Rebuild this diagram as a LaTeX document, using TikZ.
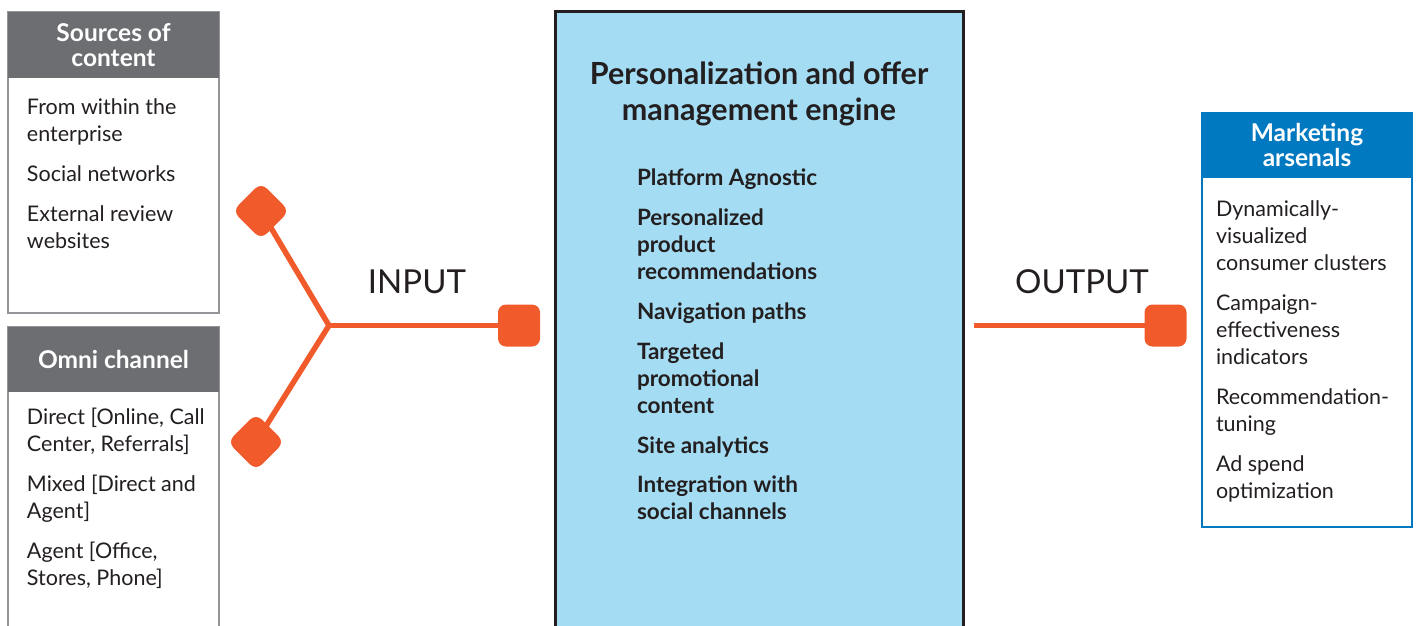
\documentclass[tikz,border=0pt]{standalone}
\usepackage{fontspec}
\setmainfont{Lato}
\definecolor{headgray}{HTML}{6D6E71}
\definecolor{framegray}{HTML}{939598}
\definecolor{headblue}{HTML}{0079C1}
\definecolor{enginefill}{HTML}{A4DDF3}
\definecolor{ink}{HTML}{231F20}
\definecolor{linkorange}{HTML}{F15A2B}
\begin{document}
\begin{tikzpicture}[x=1pt,y=-1pt,
  every node/.style={inner sep=0pt,outer sep=0pt},
  panel/.style={anchor=north west,fill=white},
  headbar/.style={anchor=north west,minimum height=66pt,minimum width=211pt},
  headtext/.style={text=white,align=center,font=\fontsize{24.5}{25}\selectfont\bfseries},
  item/.style={anchor=base west,align=left,text=ink,font=\fontsize{21.5}{27}\selectfont},
  engineitem/.style={anchor=base west,align=left,text=ink,font=\fontsize{22.5}{27}\selectfont\bfseries},
  flowlabel/.style={text=ink,font=\fontsize{33}{36}\selectfont},
  joint/.style={fill=linkorange,rounded corners=8pt,minimum size=40pt,rotate=45},
  plug/.style={fill=linkorange,rounded corners=8pt,minimum size=42pt},
  link/.style={draw=linkorange,line width=5.5pt}]
\useasboundingbox (0,0) rectangle (1416,625);
\clip (0,0) rectangle (1416,625);

% ---- Sources of content ----
% (multi-line texts are placed by the baseline of their last line)
\node[panel,draw=framegray,line width=1.5pt,minimum width=211pt,minimum height=301pt] (srcbox) at (8,12) {};
\node[headbar,fill=headgray] (srchead) at (8,12) {};
\node[headtext] (srctitle) at (113.5,45) {Sources of\\content};
\node[item] (src1) at (27,141) {From within the\\enterprise};
\node[item] (src2) at (27,181) {Social networks};
\node[item] (src3) at (27,248) {External review\\websites};

% ---- Omni channel ----
\node[panel,draw=framegray,line width=1.5pt,minimum width=211pt,minimum height=330pt] (omnibox) at (8,327) {};
\node[headbar,fill=headgray,minimum height=65pt] (omnihead) at (8,327) {};
\node[headtext] (omnititle) at (113.5,359) {Omni channel};
\node[item] (omni1) at (27,451) {Direct [Online, Call\\Center, Referrals]};
\node[item] (omni2) at (27,518) {Mixed [Direct and\\Agent]};
\node[item] (omni3) at (27,585) {Agent [Office,\\Stores, Phone]};

% ---- Engine ----
\node[panel,fill=enginefill,draw=ink,line width=3pt,minimum width=408pt,minimum height=640pt] (engine) at (555,11) {};
\node[align=center,text=ink,font=\fontsize{30.5}{36}\selectfont\bfseries] (enginetitle) at (759,94) {Personalization and offer\\management engine};
\node[engineitem] (eng1) at (637,185) {Platform Agnostic};
\node[engineitem] (eng2) at (637,279) {Personalized\\product\\recommendations};
\node[engineitem] (eng3) at (637,319) {Navigation paths};
\node[engineitem] (eng4) at (637,413) {Targeted\\promotional\\content};
\node[engineitem] (eng5) at (637,453) {Site analytics};
\node[engineitem] (eng6) at (637,519) {Integration with\\social channels};

% ---- Marketing arsenals ----
\node[panel,draw=headblue,line width=2pt,minimum width=210pt,minimum height=414pt] (mktbox) at (1202,113) {};
\node[headbar,fill=headblue,minimum width=210pt,minimum height=65pt] (mkthead) at (1202,113) {};
\node[headtext] (mkttitle) at (1307,145) {Marketing\\arsenals};
\node[item] (mkt1) at (1216,270) {Dynamically-\\visualized\\consumer clusters};
\node[item] (mkt2) at (1216,364) {Campaign-\\effectiveness\\indicators};
\node[item] (mkt3) at (1216,431) {Recommendation-\\tuning};
\node[item] (mkt4) at (1216,498) {Ad spend\\optimization};

% ---- Input connector ----
\coordinate (hub) at (329,325.5);
\node[joint] (srcjoint) at (261,211) {};
\node[joint] (omnijoint) at (256,442) {};
\node[plug] (inplug) at (519,325.5) {};
\draw[link,line join=miter] (srcjoint.center) -- (hub) -- (omnijoint.center);
\draw[link] (hub) -- (inplug.center);
\node[flowlabel] (inlabel) at (417,282) {INPUT};

% ---- Output connector ----
\coordinate (outstart) at (974,325.5);
\node[plug] (outplug) at (1165.5,325.5) {};
\draw[link] (outstart) -- (outplug.center);
\node[flowlabel] (outlabel) at (1082,282) {OUTPUT};
\end{tikzpicture}
\end{document}
